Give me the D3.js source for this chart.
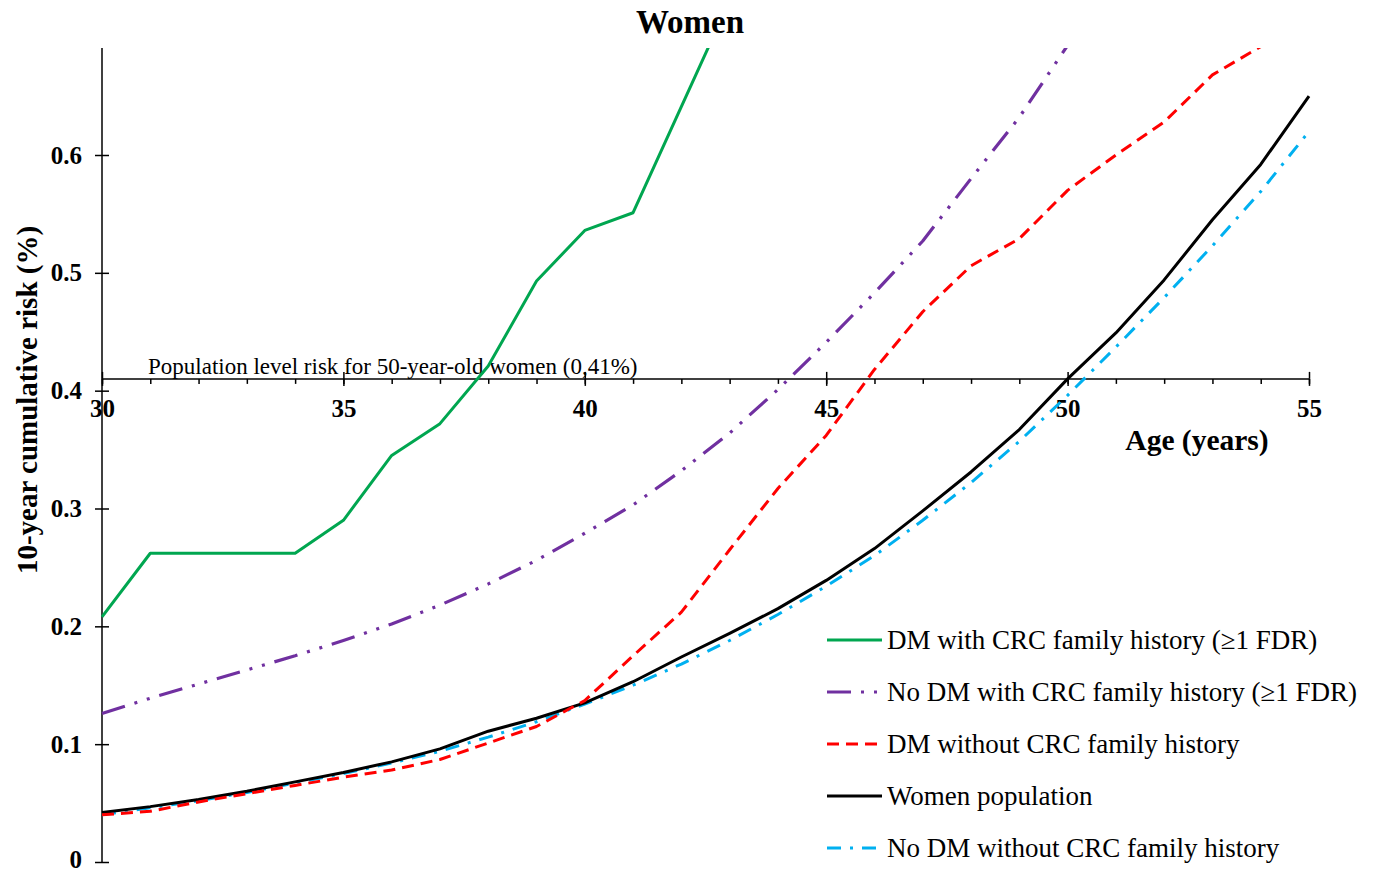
<!DOCTYPE html>
<html>
<head>
<meta charset="utf-8">
<script src="https://cdn.jsdelivr.net/npm/d3@7"></script>
<style>
  html, body { margin: 0; padding: 0; background: #fff; }
  svg { display: block; }
  text { font-family: "Liberation Serif", "Times New Roman", serif; fill: #000; }
</style>
</head>
<body>
<script>
// ---------- data ----------
const ages = [30,31,32,33,34,35,36,37,38,39,40,41,42,43,44,45,46,47,48,49,50,51,52,53,54,55];

const dmWithFH = [0.208,0.262,0.262,0.262,0.262,0.290,0.345,0.372,0.421,0.493,0.536,0.551,0.641,0.731,
  null,null,null,null,null,null,null,null,null,null,null,null];
const noDmWithFH = [0.126,0.139,0.151,0.163,0.175,0.188,0.202,0.218,0.236,0.256,0.279,0.303,0.332,0.364,
  0.401,0.441,0.483,0.527,0.580,0.632,0.693,null,null,null,null,null];
const dmWithoutFH = [0.040,0.043,0.051,0.058,0.065,0.072,0.078,0.087,0.101,0.115,0.137,0.175,0.212,0.265,
  0.317,0.362,0.418,0.467,0.506,0.529,0.570,0.600,0.628,0.668,0.692,null];
const womenPop = [0.042,0.047,0.053,0.060,0.068,0.076,0.085,0.096,0.111,0.122,0.135,0.153,0.174,0.194,
  0.215,0.239,0.266,0.298,0.331,0.367,0.410,0.449,0.494,0.545,0.592,0.650];
const noDmWithoutFH = [0.040,0.046,0.052,0.059,0.067,0.075,0.084,0.094,0.106,0.119,0.134,0.150,0.168,0.188,
  0.210,0.234,0.260,0.290,0.322,0.357,0.396,0.437,0.479,0.523,0.569,0.620];

const seriesNames = [
  "DM with CRC family history (\u22651 FDR)",
  "No DM with CRC family history (\u22651 FDR)",
  "DM without CRC family history",
  "Women population",
  "No DM without CRC family history"
];
const yTicks = [0, 0.1, 0.2, 0.3, 0.4, 0.5, 0.6];
const xMajorTicks = [30, 35, 40, 45, 50, 55];
const popLevel = 0.41;
const popLabel = "Population level risk for 50-year-old women (0,41%)";
const title = "Women";
const xTitle = "Age (years)";
const yTitle = "10-year cumulative risk (%)";

// ---------- styles ----------
const styles = [
  { color: "#00A650", dash: null, width: 3 },
  { color: "#7030A0", dash: "24,10,3,10,3,10", width: 3.2 },
  { color: "#FF0000", dash: "12,7", width: 3 },
  { color: "#000000", dash: null, width: 3 },
  { color: "#00B0F0", dash: "14,9,3,9", width: 3 }
];
const seriesData = [dmWithFH, noDmWithFH, dmWithoutFH, womenPop, noDmWithoutFH];

// ---------- layout ----------
const W = 1374, H = 871;
const plotTop = 48, plotBottom = 862, plotLeft = 102, plotRight = 1309;

const svg = d3.select("body").append("svg").attr("width", W).attr("height", H);

const x = d3.scaleLinear().domain([30, 55]).range([plotLeft, plotRight]);
const y = d3.scaleLinear().domain([0, 0.6]).range([plotBottom, 155]);

svg.append("defs").append("clipPath").attr("id", "clip")
  .append("rect").attr("x", plotLeft - 5).attr("y", plotTop)
  .attr("width", plotRight - plotLeft + 20).attr("height", plotBottom - plotTop);

// title
svg.append("text").attr("x", 690).attr("y", 33).attr("text-anchor", "middle")
  .style("font-size", "33px").style("font-weight", "bold").text(title);

// y axis
const yAxis = d3.axisLeft(y).tickValues(yTicks).tickSize(7).tickPadding(13)
  .tickFormat(d => d === 0 ? "0" : d3.format(".1f")(d));
const gy = svg.append("g").attr("transform", `translate(${plotLeft},0)`).call(yAxis);
gy.select(".domain").remove();
gy.selectAll(".tick line").attr("stroke", "#000").attr("stroke-width", 1.5);
gy.selectAll(".tick").append("line").attr("x1", 0).attr("x2", 7)
  .attr("stroke", "#000").attr("stroke-width", 1.5);
gy.selectAll(".tick text").style("font-size", "25px").style("font-weight", "bold")
  .style("font-family", "'Liberation Serif', serif")
  .attr("dy", d => d === 0 ? "0.2em" : "0.32em");
svg.append("line").attr("x1", plotLeft).attr("x2", plotLeft)
  .attr("y1", plotTop).attr("y2", plotBottom)
  .attr("stroke", "#000").attr("stroke-width", 1.5);

// y title
svg.append("text").attr("transform", `translate(37,400) rotate(-90)`)
  .attr("text-anchor", "middle").style("font-size", "29px").style("font-weight", "bold")
  .text(yTitle);

// x axis at population level
const y0 = y(popLevel);
const xMinor = d3.range(30, 56);
const xAxisMinor = d3.axisBottom(x).tickValues(xMinor).tickSize(5).tickFormat("");
const gxm = svg.append("g").attr("transform", `translate(0,${y0})`).call(xAxisMinor);
gxm.select(".domain").remove();
gxm.selectAll(".tick line").attr("stroke", "#000").attr("stroke-width", 1.5);

const xAxisMajor = d3.axisBottom(x).tickValues(xMajorTicks).tickSize(7).tickPadding(13)
  .tickFormat(d3.format("d"));
const gx = svg.append("g").attr("transform", `translate(0,${y0})`).call(xAxisMajor);
gx.select(".domain").remove();
gx.selectAll(".tick line").attr("stroke", "#000").attr("stroke-width", 1.5);
gx.selectAll(".tick").append("line").attr("y1", 0).attr("y2", -7)
  .attr("stroke", "#000").attr("stroke-width", 1.5);
gx.selectAll(".tick text").style("font-size", "25px").style("font-weight", "bold")
  .style("font-family", "'Liberation Serif', serif");
svg.append("line").attr("x1", plotLeft).attr("x2", plotRight)
  .attr("y1", y0).attr("y2", y0).attr("stroke", "#000").attr("stroke-width", 1.5);

// pop label
svg.append("text").attr("x", 148).attr("y", y0 - 5)
  .style("font-size", "23px").text(popLabel);

// x title
svg.append("text").attr("x", 1197).attr("y", 450).attr("text-anchor", "middle")
  .style("font-size", "29.5px").style("font-weight", "bold").text(xTitle);

// lines
const gLines = svg.append("g").attr("clip-path", "url(#clip)");
const lineGen = d3.line().defined(d => d.v != null).x(d => x(d.a)).y(d => y(d.v));
// draw order: blue, black, red, purple, green
[4, 3, 2, 1, 0].forEach(i => {
  const pts = ages.map((a, j) => ({ a: a, v: seriesData[i][j] }));
  gLines.append("path").datum(pts).attr("d", lineGen)
    .attr("fill", "none").attr("stroke", styles[i].color)
    .attr("stroke-width", styles[i].width)
    .attr("stroke-dasharray", styles[i].dash)
    .attr("stroke-linejoin", "round");
});

// legend
const legY0 = 640, legStep = 52;
seriesNames.forEach((name, i) => {
  const ly = legY0 + i * legStep;
  svg.append("line").attr("x1", 827).attr("x2", 882).attr("y1", ly).attr("y2", ly)
    .attr("stroke", styles[i].color).attr("stroke-width", styles[i].width)
    .attr("stroke-dasharray", styles[i].dash);
  svg.append("text").attr("x", 887).attr("y", ly + 9)
    .style("font-size", "27px").text(name);
});
</script>
</body>
</html>
